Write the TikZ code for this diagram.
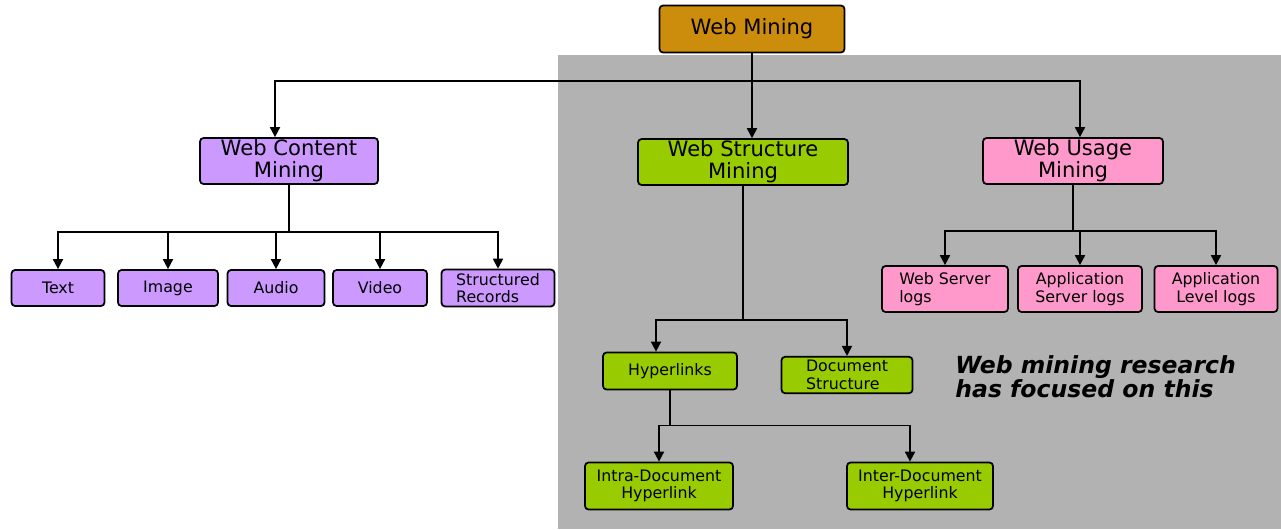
\documentclass[tikz,border=0pt]{standalone}
\usepackage{fontspec}
\setmainfont{DejaVu Sans}
\usepackage{tikz}
\usetikzlibrary{arrows.meta, positioning, calc}

\definecolor{bggray}{RGB}{178,178,178}
\definecolor{wmgold}{RGB}{204,140,12}
\definecolor{wmpurple}{RGB}{204,153,255}
\definecolor{wmgreen}{RGB}{153,204,0}
\definecolor{wmpink}{RGB}{255,153,204}

\begin{document}
\begin{tikzpicture}[
    x=0.02cm, y=-0.02cm,
    box/.style={rectangle, draw, rounded corners=2pt, line width=1pt, align=center, inner sep=1pt, font=\fontsize{12}{12.5}\selectfont},
    smallbox/.style={rectangle, draw, rounded corners=2pt, line width=1pt, align=center, inner sep=2pt, minimum height=0.72cm, font=\fontsize{9}{10}\selectfont},
    arrow/.style={-{Triangle[length=2mm, width=2mm]}, line width=1pt},
    line/.style={line width=1pt},
]

\useasboundingbox (0,0) rectangle (1281,529);
\fill[bggray] (558,55) rectangle (1281,529);

% top levels
\node[box, fill=wmgold, minimum width=3.7cm, minimum height=0.94cm] (web) at (752,29) {Web Mining};
\node[box, fill=wmpurple, minimum width=3.56cm, minimum height=0.92cm] (content) at (289,161) {Web Content\\Mining};
\node[box, fill=wmgreen, minimum width=4.2cm, minimum height=0.88cm] (structure) at (743,162) {Web Structure\\Mining};
\node[box, fill=wmpink, minimum width=3.6cm, minimum height=0.92cm] (usage) at (1073,161) {Web Usage\\Mining};

% content mining
\node[smallbox, fill=wmpurple, minimum width=1.86cm] (ctext) at (58,288) {Text};
\node[smallbox, fill=wmpurple, minimum width=2.0cm] (cimage) at (168,288) {Image};
\node[smallbox, fill=wmpurple, minimum width=1.94cm] (caudio) at (276,288) {Audio};
\node[smallbox, fill=wmpurple, minimum width=1.88cm] (cvideo) at (380,288) {Video};
\node[smallbox, fill=wmpurple, minimum width=2.26cm, align=left] (crecords) at (498,288) {Structured\\Records};

% usage mining
\node[smallbox, fill=wmpink, minimum width=2.52cm, minimum height=0.92cm, align=left] (uweb) at (945,289) {Web Server\\logs};
\node[smallbox, fill=wmpink, minimum width=2.48cm, minimum height=0.92cm] (uappserver) at (1080,289) {Application\\Server logs};
\node[smallbox, fill=wmpink, minimum width=2.46cm, minimum height=0.92cm] (uapplevel) at (1216,289) {Application\\Level logs};

% structure mining
\node[smallbox, fill=wmgreen, minimum width=2.68cm, minimum height=0.74cm] (hyper) at (670,371) {Hyperlinks};
\node[smallbox, fill=wmgreen, minimum width=2.62cm, align=left] (docstruct) at (847,375) {Document\\Structure};
\node[smallbox, fill=wmgreen, minimum width=2.96cm, minimum height=0.94cm] (intra) at (659,486) {Intra-Document\\Hyperlink};
\node[smallbox, fill=wmgreen, minimum width=2.92cm, minimum height=0.94cm] (inter) at (920,486) {Inter-Document\\Hyperlink};

\node[anchor=north west, align=left, inner sep=0pt, font=\fontsize{13.4}{13.8}\selectfont\bfseries\itshape] (note) at (955,355) {Web mining research\\has focused on this};

% connectors
\coordinate (topbus) at (752,81);
\draw[line] (web) -- (topbus);
\draw[arrow] (topbus) -- (topbus |- structure.north);
\draw[arrow] (topbus) -| ([xshift=-0.28cm]content.north);
\draw[arrow] (topbus) -| ([xshift=0.14cm]usage.north);

\coordinate (cbus) at ($(content.south)+(0,47)$);
\draw[line] (content.south) -- (cbus);
\foreach \c in {ctext, cimage, caudio, cvideo, crecords}
    \draw[arrow] (cbus) -| (\c.north);

\coordinate (ubus) at ($(usage.south)+(0,46)$);
\draw[line] (usage.south) -- (ubus);
\foreach \c in {uweb, uappserver, uapplevel}
    \draw[arrow] (ubus) -| (\c.north);

\coordinate (sbus) at ($(structure.south)+(0,134)$);
\draw[line] (structure.south) -- (sbus);
\draw[arrow] (sbus) -| ([xshift=-0.28cm]hyper.north);
\draw[arrow] (sbus) -| (docstruct.north);

\coordinate (hbus) at ($(hyper.south)+(0,35)$);
\draw[line] (hyper.south) -- (hbus);
\draw[arrow] (hbus) -| (intra.north);
\draw[arrow] (hbus) -| ([xshift=-0.2cm]inter.north);

\end{tikzpicture}
\end{document}
